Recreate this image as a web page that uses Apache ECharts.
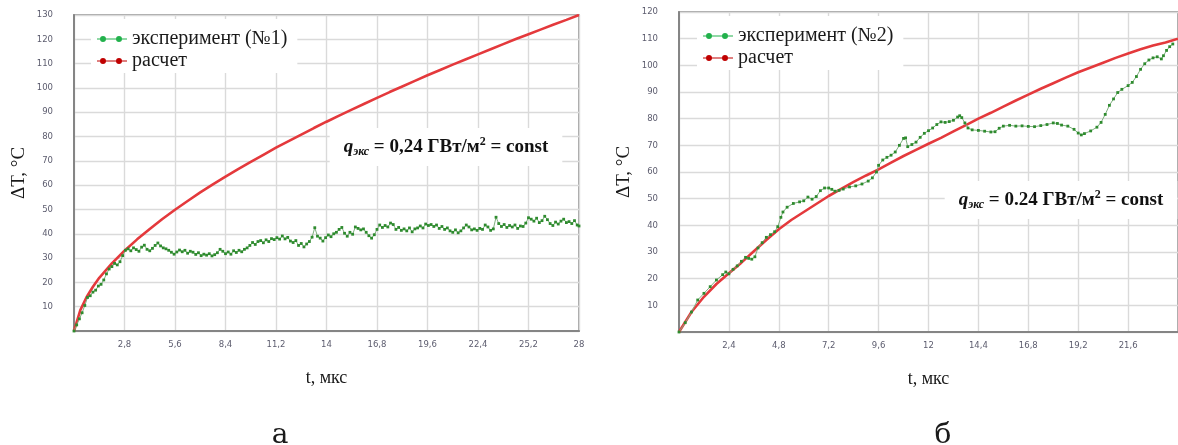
<!DOCTYPE html>
<html>
<head>
<meta charset="utf-8">
<script src="https://cdn.jsdelivr.net/npm/echarts@6/dist/echarts.min.js"></script>
<style>
  html, body { margin: 0; padding: 0; background: #fff; overflow: hidden; }
  #chart { width: 1178px; height: 445px; }
</style>
</head>
<body>
<div id="chart"></div>
<script>
// ---- Panel а: experiment №1 vs. calculation, t in µs, ΔT in °C ----
const calc1 = [
  [0, 0], [0.35, 8.6], [0.7, 14.0], [1.05, 18.2], [1.4, 21.9], [2.1, 27.8], [2.8, 33.0],
  [3.5, 37.7], [4.2, 42.0], [4.9, 46.1], [5.6, 49.9], [6.3, 53.5], [7, 57.0], [7.7, 60.3],
  [8.4, 63.5], [9.1, 66.6], [9.8, 69.6], [10.5, 72.5], [11.2, 75.4], [11.9, 78.1],
  [12.6, 80.8], [13.3, 83.5], [14, 86.1], [14.7, 88.6], [15.4, 91.1], [16.1, 93.5],
  [16.8, 95.9], [17.5, 98.3], [18.2, 100.6], [18.9, 102.9], [19.6, 105.2], [20.3, 107.4],
  [21, 109.6], [21.7, 111.7], [22.4, 113.8], [23.1, 115.9], [23.8, 118.0], [24.5, 120.1],
  [25.2, 122.1], [25.9, 124.1], [26.6, 126.1], [27.3, 128.0], [28, 130]
];

const exp1 = [
  [0, 0], [0.15, 2.5], [0.3, 5], [0.45, 7.5], [0.6, 10.5], [0.75, 13.8], [0.9, 14.5],
  [1.05, 16], [1.2, 16.8], [1.35, 18.5], [1.5, 19.2], [1.65, 21], [1.8, 23.5], [1.95, 25.5],
  [2.1, 26.5], [2.25, 27.8], [2.4, 27.2], [2.55, 28.5], [2.7, 31], [2.85, 33.2], [3.0, 33.8],
  [3.15, 33.0], [3.3, 34.2], [3.45, 33.5], [3.6, 32.8], [3.75, 34.5], [3.9, 35.3], [4.05, 33.6],
  [4.2, 33.0], [4.35, 34.0], [4.5, 35.2], [4.65, 36.2], [4.8, 35.0], [4.95, 34.2], [5.1, 33.8],
  [5.25, 33.2], [5.4, 32.4], [5.55, 31.6], [5.7, 32.5], [5.85, 33.3], [6.0, 32.6], [6.15, 33.2],
  [6.3, 32.0], [6.45, 32.8], [6.6, 32.4], [6.75, 31.5], [6.9, 32.2], [7.05, 31.0], [7.2, 31.6],
  [7.35, 31.2], [7.5, 31.8], [7.65, 30.9], [7.8, 31.4], [7.95, 32.2], [8.1, 33.6], [8.25, 32.8],
  [8.4, 31.8], [8.55, 32.5], [8.7, 31.6], [8.85, 33.0], [9.0, 32.3], [9.15, 33.2], [9.3, 32.6],
  [9.45, 33.6], [9.6, 34.2], [9.75, 35.2], [9.9, 36.4], [10.05, 35.6], [10.2, 36.8], [10.35, 37.2],
  [10.5, 36.3], [10.65, 37.5], [10.8, 36.8], [10.95, 38.0], [11.1, 37.6], [11.25, 38.4],
  [11.4, 37.8], [11.55, 39.1], [11.7, 37.9], [11.85, 38.5], [12.0, 37.0], [12.15, 36.4],
  [12.3, 37.2], [12.45, 35.2], [12.6, 36.0], [12.75, 34.6], [12.9, 35.8], [13.05, 36.8],
  [13.2, 38.6], [13.35, 42.5], [13.5, 39.0], [13.65, 38.2], [13.8, 37.0], [13.95, 38.4],
  [14.1, 39.5], [14.25, 38.8], [14.4, 40.0], [14.55, 40.6], [14.7, 41.8], [14.85, 42.6],
  [15.0, 40.2], [15.15, 39.0], [15.3, 40.6], [15.45, 39.8], [15.6, 42.8], [15.75, 42.2],
  [15.9, 41.6], [16.05, 42.0], [16.2, 40.6], [16.35, 39.2], [16.5, 38.2], [16.65, 39.6],
  [16.8, 41.8], [16.95, 43.6], [17.1, 42.6], [17.25, 43.4], [17.4, 42.8], [17.55, 44.4],
  [17.7, 43.8], [17.85, 41.8], [18.0, 42.6], [18.15, 41.4], [18.3, 42.0], [18.45, 41.2],
  [18.6, 42.4], [18.75, 40.8], [18.9, 42.0], [19.05, 42.4], [19.2, 43.2], [19.35, 42.4],
  [19.5, 44.0], [19.65, 43.4], [19.8, 43.8], [19.95, 43.0], [20.1, 43.6], [20.25, 42.2],
  [20.4, 43.0], [20.55, 41.8], [20.7, 42.4], [20.85, 41.2], [21.0, 40.6], [21.15, 41.6],
  [21.3, 40.4], [21.45, 41.2], [21.6, 42.4], [21.75, 43.6], [21.9, 42.8], [22.05, 41.6],
  [22.2, 42.0], [22.35, 41.4], [22.5, 42.2], [22.65, 41.8], [22.8, 43.6], [22.95, 42.8],
  [23.1, 41.4], [23.25, 42.0], [23.4, 46.8], [23.55, 44.2], [23.7, 43.0], [23.85, 43.8],
  [24.0, 42.6], [24.15, 43.4], [24.3, 42.8], [24.45, 43.6], [24.6, 42.2], [24.75, 43.2],
  [24.9, 43.0], [25.05, 44.4], [25.2, 46.6], [25.35, 46.0], [25.5, 45.2], [25.65, 46.4],
  [25.8, 44.6], [25.95, 45.4], [26.1, 47.2], [26.25, 45.8], [26.4, 44.2], [26.55, 43.4],
  [26.7, 44.8], [26.85, 44.0], [27.0, 45.2], [27.15, 46.0], [27.3, 44.6], [27.45, 45.0],
  [27.6, 44.2], [27.75, 45.4], [27.9, 43.6], [28.0, 43.2]
];

// ---- Panel б: experiment №2 vs. calculation ----
const calc2 = [
  [0, 0], [0.6, 7.5], [1.2, 13.2], [1.8, 18], [2.4, 22], [3.0, 26], [3.6, 30.3], [4.2, 34.5],
  [4.8, 38.5], [5.4, 42], [6.0, 45], [6.6, 48], [7.2, 51], [7.8, 53.7], [8.4, 56.3],
  [9.0, 58.7], [9.6, 61], [10.2, 63.5], [10.8, 66], [11.4, 68.3], [12, 70.6], [12.6, 72.8],
  [13.2, 75.2], [13.8, 77.6], [14.4, 80], [15, 82.2], [15.6, 84.5], [16.2, 86.8], [16.8, 89],
  [17.4, 91.2], [18, 93.3], [18.6, 95.4], [19.2, 97.4], [19.8, 99.2], [20.4, 101], [21, 102.8],
  [21.6, 104.4], [22.2, 106], [22.8, 107.4], [23.4, 108.6], [24, 110]
];

const exp2 = [
  [0, 0], [0.3, 3.5], [0.6, 7.5], [0.9, 12], [1.2, 14.5], [1.5, 17], [1.8, 19.5], [2.1, 21.5],
  [2.25, 22.5], [2.4, 21.8], [2.6, 23.5], [2.8, 24.8], [3.0, 26.5], [3.2, 28], [3.35, 27.6],
  [3.5, 27.3], [3.65, 28.2], [3.8, 31.5], [4.0, 33.5], [4.2, 35.5], [4.4, 36.5], [4.6, 37.6],
  [4.75, 39.5], [4.9, 43], [5.0, 45], [5.2, 46.8], [5.5, 48.2], [5.8, 48.8], [6.0, 49.2],
  [6.2, 50.6], [6.4, 49.8], [6.6, 50.8], [6.8, 53], [7.0, 54], [7.2, 54], [7.35, 53.5],
  [7.5, 52.8], [7.7, 53.1], [7.9, 53.6], [8.2, 54.4], [8.5, 54.8], [8.8, 55.5], [9.1, 56.6],
  [9.3, 57.8], [9.5, 60], [9.6, 62.5], [9.8, 64.5], [10.0, 65.5], [10.2, 66.3], [10.4, 67.5],
  [10.6, 70], [10.8, 72.6], [10.9, 72.8], [11.0, 69.5], [11.2, 70.3], [11.4, 71.2], [11.6, 73],
  [11.8, 74.5], [12.0, 75.5], [12.2, 76.5], [12.4, 77.8], [12.6, 78.8], [12.8, 78.6],
  [13.0, 78.9], [13.2, 79.4], [13.4, 80.6], [13.5, 81.1], [13.6, 80.4], [13.75, 78.4],
  [13.9, 76.5], [14.1, 75.8], [14.4, 75.6], [14.7, 75.3], [15.0, 75.0], [15.2, 75.1],
  [15.4, 76.4], [15.6, 77.2], [15.9, 77.5], [16.2, 77.2], [16.5, 77.3], [16.8, 77.1],
  [17.1, 77.0], [17.4, 77.4], [17.7, 77.8], [18.0, 78.4], [18.2, 78.2], [18.4, 77.6],
  [18.7, 77.2], [19.0, 76.0], [19.2, 74.6], [19.35, 73.9], [19.5, 74.4], [19.8, 75.4],
  [20.1, 76.8], [20.3, 78.6], [20.5, 81.6], [20.7, 85], [20.9, 87.4], [21.1, 89.8], [21.3, 91],
  [21.6, 92.4], [21.8, 93.6], [22.0, 95.8], [22.2, 98.5], [22.4, 100.6], [22.6, 102],
  [22.8, 102.8], [23.0, 103.2], [23.2, 102.4], [23.3, 103.6], [23.45, 105.6], [23.6, 107],
  [23.75, 108]
];

const seriesNames = {
  exp1: 'эксперимент (№1)',
  exp2: 'эксперимент (№2)',
  calc: 'расчет'
};
const axisTitles = { x: 't, мкс', y: 'ΔT, °C' };
const noteText1 = '{q|q}{s|экс}{t| = 0,24 ГВт/м}{p|2}{t| = const}';
const noteText2 = '{q|q}{s|экс}{t| = 0.24 ГВт/м}{p|2}{t| = const}';
const captions = ['а', 'б'];

const SERIF = '"Liberation Serif", "Times New Roman", serif';
const TICK_FONT = '"DejaVu Sans", Verdana, sans-serif';
const GRID_COLOR = '#dadada';
const AXIS_COLOR = '#858585';
const GREEN_DOT = '#2e8b2e';
const GREEN_LINE = '#7fae7f';
const RED_LINE = '#e4393c';

function tickLabel(v) {
  if (v === 0) return '';
  return String(+v.toFixed(1)).replace('.', ',');
}

function xAxisFor(gridIndex, max, interval, showMax) {
  return {
    type: 'value', gridIndex, min: 0, max, interval,
    name: axisTitles.x, nameLocation: 'middle', nameGap: 38,
    nameTextStyle: { fontFamily: SERIF, fontSize: 18, color: '#1a1a1a' },
    axisLine: { show: true, lineStyle: { color: AXIS_COLOR, width: 2 } },
    axisTick: { show: false },
    axisLabel: { formatter: tickLabel, fontFamily: TICK_FONT, fontSize: 8.5, color: '#5c5c6e', margin: 9, showMaxLabel: showMax },
    splitLine: { show: true, lineStyle: { color: GRID_COLOR, width: 1.4 } }
  };
}

function yAxisFor(gridIndex, max) {
  return {
    type: 'value', gridIndex, min: 0, max, interval: 10,
    name: axisTitles.y, nameLocation: 'middle', nameGap: 45,
    nameTextStyle: { fontFamily: SERIF, fontSize: 19, color: '#1a1a1a' },
    axisLine: { show: true, lineStyle: { color: AXIS_COLOR, width: 2 } },
    axisTick: { show: false },
    axisLabel: { formatter: tickLabel, fontFamily: TICK_FONT, fontSize: 8.5, color: '#5c5c6e', margin: 21 },
    splitLine: { show: true, lineStyle: { color: GRID_COLOR, width: 1.4 } }
  };
}

// legend glyph: thin bar with two round markers
const LEGEND_ICON = 'path://M0,2.6 L30,2.6 L30,3.4 L0,3.4 Z ' +
  'M3,3 A3,3 0 1,1 9,3 A3,3 0 1,1 3,3 Z ' +
  'M19,3 A3,3 0 1,1 25,3 A3,3 0 1,1 19,3 Z';

function legendFor(left, top, expName) {
  return {
    orient: 'vertical', left, top,
    backgroundColor: '#fff', padding: [10, 10, 2, 6], itemGap: 2,
    itemWidth: 30, itemHeight: 6, selectedMode: false,
    textStyle: { fontFamily: SERIF, fontSize: 20, color: '#1a1a1a' },
    data: [
      { name: expName, icon: LEGEND_ICON, itemStyle: { color: '#22b14c' } },
      { name: seriesNames.calc, icon: LEGEND_ICON, itemStyle: { color: '#c00000' } }
    ]
  };
}

function expSeries(name, data, idx) {
  return {
    name, type: 'line', data, xAxisIndex: idx, yAxisIndex: idx,
    symbol: 'rect', symbolSize: 2.8, showAllSymbol: true,
    itemStyle: { color: GREEN_DOT },
    lineStyle: { color: GREEN_LINE, width: 1 },
    z: 3, animation: false
  };
}

function calcSeries(data, idx) {
  return {
    name: seriesNames.calc, type: 'line', data, xAxisIndex: idx, yAxisIndex: idx,
    symbol: 'none', smooth: false,
    itemStyle: { color: RED_LINE },
    lineStyle: { color: RED_LINE, width: 2.6 },
    z: 2, animation: false
  };
}

const noteRich = {
  q: { fontFamily: SERIF, fontSize: 19, fontWeight: 'bold', fontStyle: 'italic', fill: '#111', lineHeight: 22, verticalAlign: 'middle' },
  s: { fontFamily: SERIF, fontSize: 12, fontWeight: 'bold', fontStyle: 'italic', fill: '#111', lineHeight: 12, verticalAlign: 'bottom' },
  t: { fontFamily: SERIF, fontSize: 19, fontWeight: 'bold', fill: '#111', lineHeight: 22, verticalAlign: 'middle' },
  p: { fontFamily: SERIF, fontSize: 12, fontWeight: 'bold', fill: '#111', lineHeight: 12, verticalAlign: 'top' }
};

function note(text, cx, cy) {
  return {
    type: 'text', x: cx, y: cy, z: 10,
    style: {
      text, rich: noteRich, align: 'center', verticalAlign: 'middle',
      backgroundColor: '#fff', padding: [8, 14, 8, 14]
    }
  };
}

function caption(text, cx) {
  return {
    type: 'text', x: cx, y: 450, z: 10,
    style: { text, font: '28px "DejaVu Serif", serif', fill: '#1a1a1a', align: 'center', verticalAlign: 'bottom' }
  };
}

const chart = echarts.init(document.getElementById('chart'), null, { renderer: 'canvas' });
chart.setOption({
  backgroundColor: '#fff',
  animation: false,
  grid: [
    { left: 74, top: 15, width: 505, height: 316, show: true, borderColor: AXIS_COLOR, borderWidth: 1.5, backgroundColor: 'transparent' },
    { left: 679, top: 12, width: 509, height: 320, show: true, borderColor: AXIS_COLOR, borderWidth: 1.5, backgroundColor: 'transparent' }
  ],
  xAxis: [xAxisFor(0, 28, 2.8, true), xAxisFor(1, 24, 2.4, false)],
  yAxis: [yAxisFor(0, 130), yAxisFor(1, 120)],
  legend: [legendFor(91, 19, seriesNames.exp1), legendFor(697, 16, seriesNames.exp2)],
  series: [
    calcSeries(calc1, 0), expSeries(seriesNames.exp1, exp1, 0),
    calcSeries(calc2, 1), expSeries(seriesNames.exp2, exp2, 1)
  ],
  graphic: [
    note(noteText1, 446, 147),
    note(noteText2, 1061, 200),
    caption(captions[0], 280),
    caption(captions[1], 943)
  ]
});
</script>
</body>
</html>
